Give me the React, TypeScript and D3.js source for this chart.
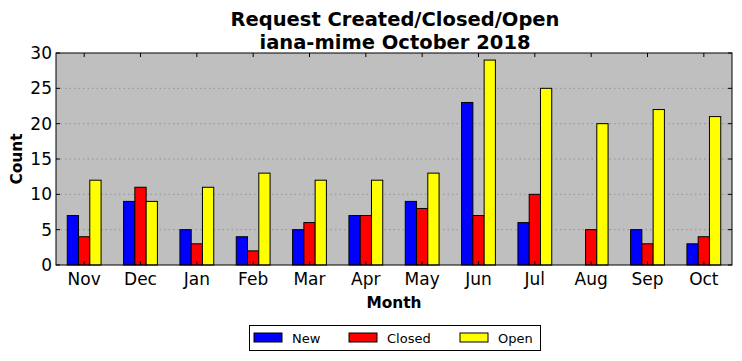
import React from "react";
import * as d3 from "d3";

const months = ["Nov", "Dec", "Jan", "Feb", "Mar", "Apr", "May", "Jun", "Jul", "Aug", "Sep", "Oct"];
const newVals = [7, 9, 5, 4, 5, 7, 9, 23, 6, 0, 5, 3];
const closedVals = [4, 11, 3, 2, 6, 7, 8, 7, 10, 5, 3, 4];
const openVals = [12, 9, 11, 13, 12, 12, 13, 29, 25, 20, 22, 21];
const seriesNames = ["New", "Closed", "Open"];
const seriesColors = ["#0000ff", "#ff0000", "#ffff00"];
const yTicks = [0, 5, 10, 15, 20, 25, 30];

const W = 742, H = 361;
const L = 56, R = 732, T = 53, B = 265;
const font = "DejaVu Sans, sans-serif";

export default function App() {
  const x = d3.scaleBand<string>().domain(months).range([L, R]).padding(0);
  const y = d3.scaleLinear().domain([0, 30]).range([B, T]);
  const series = [newVals, closedVals, openVals];
  const bw = x.bandwidth() * 0.2;

  return (
    <svg width={W} height={H} style={{ position: "absolute", left: 0, top: 0 }}>
      <rect x={0} y={0} width={W} height={H} fill="#fff" />
      <rect x={L} y={T} width={R - L} height={B - T} fill="#bfbfbf" />
      {yTicks.slice(1, -1).map((t) => (
        <line key={"g" + t} x1={L} x2={R} y1={y(t)} y2={y(t)} stroke="#888" strokeWidth={0.8} strokeDasharray="1.5,3" />
      ))}
      {series.map((vals, si) =>
        vals.map((v, i) => {
          const cx = x(months[i])! + x.bandwidth() / 2;
          const x0 = cx - 1.5 * bw + si * bw;
          return (
            <rect key={si + "-" + i} x={x0} y={y(v)} width={bw} height={y(0) - y(v)} fill={seriesColors[si]} stroke="#000" strokeWidth={1} />
          );
        })
      )}
      {months.map((m) => {
        const cx = x(m)! + x.bandwidth() / 2;
        return (
          <g key={"t" + m}>
            <line x1={cx} x2={cx} y1={B} y2={B - 4} stroke="#000" />
            <line x1={cx} x2={cx} y1={T} y2={T + 4} stroke="#000" />
            <text x={cx} y={B + 20} textAnchor="middle" fontFamily={font} fontSize={17}>{m}</text>
          </g>
        );
      })}
      {yTicks.map((t) => (
        <g key={"y" + t}>
          <line x1={L} x2={L + 4} y1={y(t)} y2={y(t)} stroke="#000" />
          <line x1={R} x2={R - 4} y1={y(t)} y2={y(t)} stroke="#000" />
          <text x={L - 4} y={y(t) + 6} textAnchor="end" fontFamily={font} fontSize={17}>{t}</text>
        </g>
      ))}
      <rect x={L} y={T} width={R - L} height={B - T} fill="none" stroke="#000" strokeWidth={1} />
      <text x={395} y={26} textAnchor="middle" fontFamily={font} fontSize={19.5} fontWeight="bold">Request Created/Closed/Open</text>
      <text x={395} y={49} textAnchor="middle" fontFamily={font} fontSize={19.5} fontWeight="bold">iana-mime October 2018</text>
      <text x={394} y={308} textAnchor="middle" fontFamily={font} fontSize={15.4} fontWeight="bold">Month</text>
      <text transform={`translate(22,${(T + B) / 2}) rotate(-90)`} textAnchor="middle" fontFamily={font} fontSize={15.4} fontWeight="bold">Count</text>
      <rect x={249.5} y={325.5} width={291} height={25} fill="#fff" stroke="#000" strokeWidth={1} />
      {seriesNames.map((n, i) => {
        const offs = [254, 349, 460];
        return (
          <g key={"l" + n}>
            <rect x={offs[i]} y={333} width={28} height={9} fill={seriesColors[i]} stroke="#000" strokeWidth={1} />
            <text x={offs[i] + 38} y={343} fontFamily={font} fontSize={13}>{n}</text>
          </g>
        );
      })}
    </svg>
  );
}
